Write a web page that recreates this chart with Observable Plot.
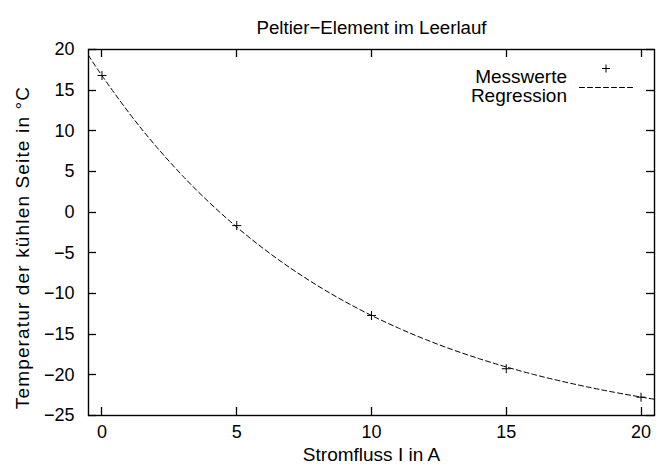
<!DOCTYPE html>
<html>
<head>
<meta charset="utf-8">
<script src="https://cdn.jsdelivr.net/npm/d3@7"></script>
<script src="https://cdn.jsdelivr.net/npm/@observablehq/plot@0.6"></script>
<style>
  html, body { margin: 0; padding: 0; background: #fff; }
</style>
</head>
<body>
<div id="chart"></div>
<script>
// ---- data ----
const titleText = "Peltier−Element im Leerlauf";
const xLabel = "Stromfluss I in A";
const yLabel = "Temperatur der kühlen Seite in °C";
const legendLabels = ["Messwerte", "Regression"];

const currents = [0, 5, 10, 15, 20];                 // measured current (A)
const temps = [16.8, -1.65, -12.7, -19.25, -22.75];  // measured temperature (°C)

// regression curve
const fitI = [-0.5, 0, 1, 2, 3, 4, 5, 6, 7, 8, 9, 10, 11, 12, 13, 14, 15, 16, 17, 18, 19, 20, 20.5];
const fitT = [19.27, 16.79, 12.22, 8.12, 4.44, 1.13, -1.83, -4.50, -6.89, -9.04, -10.97, -12.70,
              -14.25, -15.65, -16.90, -18.02, -19.03, -19.94, -20.75, -21.48, -22.14, -22.73, -23.0];

const xTicks = [0, 5, 10, 15, 20];
const yTicks = [-25, -20, -15, -10, -5, 0, 5, 10, 15, 20];
const xDomain = [-0.5, 20.5];
const yDomain = [-25, 20];

const measured = currents.map((c, i) => ({I: c, T: temps[i]}));
const fit = fitI.map((c, i) => ({I: c, T: fitT[i]}));

const FONT = "'Liberation Sans', Arial, Helvetica, sans-serif";
const FS = 18;   // tick labels
const LFS = 19;  // titles / legend
const TL = 8;    // tick length (ticks point inward)

// "+" marker symbol (stroked)
const plusSymbol = {
  draw(context, size) {
    const r = Math.sqrt(size / Math.PI);
    context.moveTo(-r, 0); context.lineTo(r, 0);
    context.moveTo(0, -r); context.lineTo(0, r);
  }
};
// straight segment shape for the legend sample line
const segShape = {
  draw(context, l) { context.moveTo(0, 0); context.lineTo(0, -l); }
};

// custom mark: inward ticks on all four sides, positioned through Plot's scales
function inwardTicks(index, scales, values, dimensions) {
  const {width, height, marginLeft, marginRight, marginTop, marginBottom} = dimensions;
  const L = marginLeft, R = width - marginRight, T = marginTop, B = height - marginBottom;
  const g = d3.create("svg:g").attr("stroke", "#000").attr("stroke-width", 1.3).attr("fill", "none");
  for (const v of yTicks) {
    const py = Math.round(scales.y(v)) + 0.5;
    g.append("line").attr("x1", L).attr("x2", L + TL).attr("y1", py).attr("y2", py);
    g.append("line").attr("x1", R).attr("x2", R - TL).attr("y1", py).attr("y2", py);
  }
  for (const v of xTicks) {
    const px = Math.round(scales.x(v)) + 0.5;
    g.append("line").attr("x1", px).attr("x2", px).attr("y1", B).attr("y2", B - TL);
    g.append("line").attr("x1", px).attr("x2", px).attr("y1", T).attr("y2", T + TL);
  }
  return g.node();
}

const chart = Plot.plot({
  width: 656,
  height: 470,
  marginLeft: 88,
  marginRight: 2,
  marginTop: 49,
  marginBottom: 55,
  style: {fontFamily: FONT, fontSize: FS + "px", background: "#fff", color: "#000"},
  x: {domain: xDomain, ticks: xTicks, label: null},
  y: {domain: yDomain, ticks: yTicks, label: null},
  marks: [
    // regression curve
    Plot.line(fit, {x: "I", y: "T", stroke: "#000", strokeWidth: 1, strokeDasharray: "5,3", curve: "natural"}),
    // measured points
    Plot.dot(measured, {x: "I", y: "T", symbol: plusSymbol, r: 4.5, stroke: "#000", fill: "none", strokeWidth: 1}),
    // tick labels
    Plot.axisY(yTicks, {anchor: "left", tickSize: 0, tickPadding: 14, label: null, fontSize: FS}),
    Plot.axisX(xTicks, {anchor: "bottom", tickSize: 0, tickPadding: 10, label: null, fontSize: FS}),
    // frame
    Plot.frame({stroke: "#000", strokeWidth: 1.4}),
    // title and axis labels
    Plot.text([titleText], {frameAnchor: "top", dy: -29, fontSize: LFS - 0.3, fill: "#000"}),
    Plot.text([xLabel], {frameAnchor: "bottom", dy: 45, fontSize: LFS, fill: "#000"}),
    Plot.text([yLabel], {frameAnchor: "left", textAnchor: "middle", rotate: -90, dx: -66, dy: 15, fontSize: LFS, fill: "#000"}),
    // legend
    Plot.text([legendLabels[0]], {frameAnchor: "top-right", dx: -87.5, dy: 19.5, textAnchor: "end", fontSize: LFS, fill: "#000"}),
    Plot.text([legendLabels[1]], {frameAnchor: "top-right", dx: -87.5, dy: 38.5, textAnchor: "end", fontSize: LFS, fill: "#000"}),
    Plot.dot([legendLabels[0]], {frameAnchor: "top-right", dx: -48.5, dy: 19, symbol: plusSymbol, r: 4, stroke: "#000", fill: "none", strokeWidth: 1}),
    Plot.vector([legendLabels[1]], {frameAnchor: "top-right", dx: -75, dy: 38, length: 54, rotate: 90, anchor: "start",
      shape: segShape, stroke: "#000", strokeWidth: 1, strokeDasharray: "5,3"}),
    // inward ticks, drawn last
    inwardTicks
  ]
});

// the reference's rotated y label is set a little wider
chart.querySelectorAll("text").forEach(t => {
  if (t.textContent === yLabel) t.style.letterSpacing = "1.15px";
});

document.getElementById("chart").appendChild(chart);
</script>
</body>
</html>
